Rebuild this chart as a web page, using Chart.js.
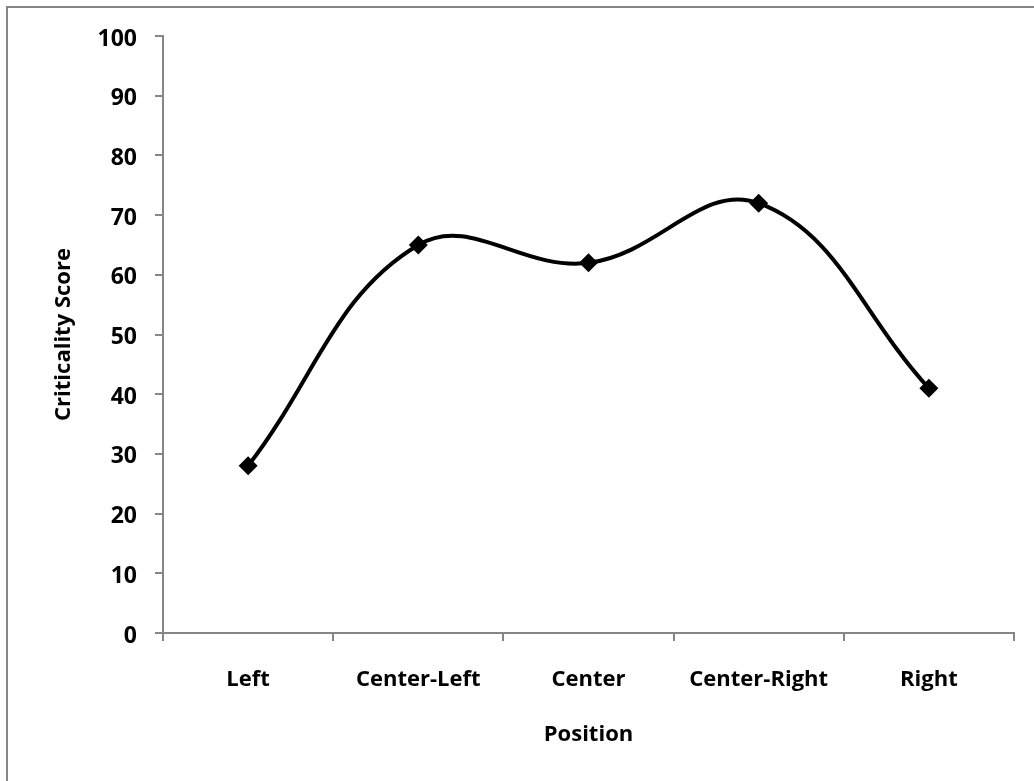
<!DOCTYPE html>
<html>
<head>
<meta charset="utf-8">
<script src="https://cdn.jsdelivr.net/npm/chart.js@4"></script>
<style>
  html, body { margin: 0; padding: 0; background: #ffffff; overflow: hidden; }
  #wrap { position: relative; width: 1034px; height: 781px; }
</style>
</head>
<body>
<div id="wrap"><canvas id="c" width="1034" height="781"></canvas></div>
<script>
const categories = ['Left', 'Center-Left', 'Center', 'Center-Right', 'Right'];
const criticalityScores = [28, 65, 62, 72, 41];
const yTickMin = 0;
const yTickMax = 100;
const yTickStep = 10;
const xAxisTitle = 'Position';
const yAxisTitle = 'Criticality Score';

const AXIS_GRAY = '#868686';
const FONT = { family: '"Open Sans", Lato, sans-serif', size: 22, weight: 'bold' };
const YTICK_FONT = { family: '"Open Sans", Lato, sans-serif', size: 23, weight: 'bold' };

const frame = {
  id: 'frame',
  beforeDraw(chart) {
    const ctx = chart.ctx;
    ctx.save();
    ctx.fillStyle = '#ffffff';
    ctx.fillRect(0, 0, chart.width, chart.height);
    ctx.strokeStyle = AXIS_GRAY;
    ctx.lineWidth = 2;
    ctx.strokeRect(7, 7, chart.width + 50, chart.height + 50);
    ctx.restore();
  }
};

new Chart(document.getElementById('c'), {
  type: 'line',
  data: {
    labels: categories,
    datasets: [{
      data: criticalityScores,
      borderColor: '#000000',
      backgroundColor: '#000000',
      borderWidth: 4,
      tension: 0.4,
      pointStyle: 'rectRot',
      pointRadius: 9.5,
      pointHoverRadius: 9.5,
      pointBackgroundColor: '#000000',
      pointBorderColor: '#000000',
      pointBorderWidth: 0,
      fill: false
    }]
  },
  options: {
    responsive: false,
    animation: false,
    events: [],
    layout: { padding: { left: 0, right: 20, top: 36, bottom: 0 } },
    plugins: {
      legend: { display: false },
      tooltip: { enabled: false },
      title: { display: false }
    },
    scales: {
      x: {
        type: 'category',
        offset: true,
        grid: {
          offset: true,
          drawOnChartArea: false,
          drawTicks: true,
          tickLength: 8,
          color: AXIS_GRAY,
          lineWidth: 2
        },
        border: { display: true, color: AXIS_GRAY, width: 2 },
        ticks: { color: '#000000', font: FONT, padding: 26, maxRotation: 0, autoSkip: false },
        title: {
          display: true,
          text: xAxisTitle,
          color: '#000000',
          font: FONT,
          padding: { top: 0, bottom: 33 }
        },
        afterFit(scale) { scale.height = 148; }
      },
      y: {
        min: yTickMin,
        max: yTickMax,
        grid: {
          drawOnChartArea: false,
          drawTicks: true,
          tickLength: 8,
          color: AXIS_GRAY,
          lineWidth: 2
        },
        border: { display: true, color: AXIS_GRAY, width: 2 },
        ticks: { stepSize: yTickStep, color: '#000000', font: YTICK_FONT, padding: 18, labelOffset: 3 },
        title: {
          display: true,
          text: yAxisTitle,
          color: '#000000',
          font: FONT,
          padding: { top: 51, bottom: 0 }
        },
        afterFit(scale) { scale.width = 163; }
      }
    }
  },
  plugins: [frame]
});
</script>
</body>
</html>
